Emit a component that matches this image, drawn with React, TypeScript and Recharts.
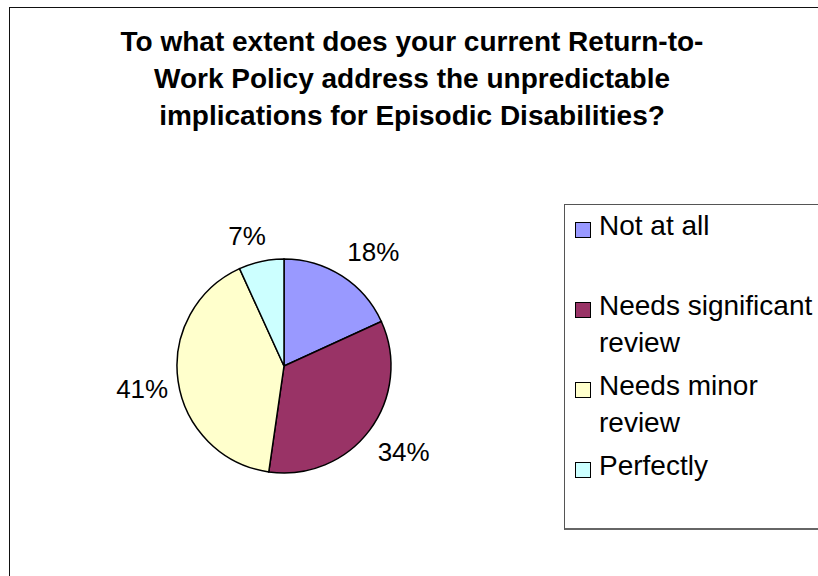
import { PieChart, Pie, Cell, Legend } from "recharts";

const categories = [
  "Not at all",
  "Needs significant review",
  "Needs minor review",
  "Perfectly",
];
const responses = [8, 15, 18, 3];
const colors = ["#9999FF", "#993366", "#FFFFCC", "#CCFFFF"];
const legendLines = [
  ["Not at all"],
  ["Needs significant", "review"],
  ["Needs minor", "review"],
  ["Perfectly"],
];
const titleLines = [
  "To what extent does your current Return-to-",
  "Work Policy address the unpredictable",
  "implications for Episodic Disabilities?",
];

const data = categories.map((name, i) => ({ name, value: responses[i] }));

const FONT = '"Liberation Sans", Arial, sans-serif';
const RADIAN = Math.PI / 180;
const LABEL_SIZE = 26;

const softSign = (v: number) => Math.max(-1, Math.min(1, v * 3));

// Excel-like "outside end": the label box corner nearest the pie sits a small gap off the rim
const renderLabel = (props: any) => {
  const { cx, cy, midAngle, outerRadius, percent } = props;
  const text = `${Math.round(percent * 100)}%`;
  const w = ((text.length - 1) * 0.556 + 0.889) * LABEL_SIZE;
  const h = 32;
  const ux = Math.cos(-midAngle * RADIAN);
  const uy = Math.sin(-midAngle * RADIAN);
  const r = outerRadius + 10;
  const x = cx + r * ux + softSign(ux) * (w / 2);
  const y = cy + r * uy + softSign(uy) * (h / 2);
  return (
    <text
      x={x}
      y={y}
      textAnchor="middle"
      dominantBaseline="central"
      fill="#000"
      fontSize={LABEL_SIZE}
      fontFamily={FONT}
    >
      {text}
    </text>
  );
};

const renderLegend = () => (
  <div
    style={{
      width: 254,
      height: 326,
      boxSizing: "border-box",
      borderTop: "1px solid #555",
      borderLeft: "1px solid #555",
      borderBottom: "2px solid #666",
      background: "#fff",
      paddingTop: 3,
      fontFamily: FONT,
      fontSize: 28,
      lineHeight: "36.5px",
      color: "#000",
    }}
  >
    {categories.map((name, i) => (
      <div key={name} style={{ display: "flex", height: 80 }}>
        <div
          style={{
            width: 16,
            height: 16,
            marginLeft: 10,
            marginTop: 14,
            marginRight: 8,
            boxSizing: "border-box",
            border: "1.5px solid #000",
            background: colors[i],
            flexShrink: 0,
          }}
        />
        <div>
          {legendLines[i].map((line, j) => (
            <div key={j} style={{ whiteSpace: "nowrap" }}>
              {line}
            </div>
          ))}
        </div>
      </div>
    ))}
  </div>
);

export default function App() {
  return (
    <div
      style={{
        position: "absolute",
        left: 0,
        top: 0,
        width: 818,
        height: 576,
        background: "#fff",
        fontFamily: FONT,
      }}
    >
      <div
        style={{
          position: "absolute",
          left: 9,
          top: 7,
          width: 809,
          height: 569,
          boxSizing: "border-box",
          borderTop: "1.5px solid #111",
          borderLeft: "1.5px solid #111",
        }}
      />
      <div
        style={{
          position: "absolute",
          left: 0,
          top: 23,
          width: 818,
          paddingLeft: 6,
          boxSizing: "border-box",
          textAlign: "center",
          fontWeight: "bold",
          fontSize: 28,
          lineHeight: "37px",
          color: "#000",
          whiteSpace: "nowrap",
        }}
      >
        {titleLines.map((line, i) => (
          <div key={i}>{line}</div>
        ))}
      </div>
      <PieChart
        width={818}
        height={576}
        margin={{ top: 0, right: 0, bottom: 0, left: 0 }}
      >
        <Pie
          data={data}
          dataKey="value"
          nameKey="name"
          cx={284}
          cy={366}
          outerRadius={107}
          startAngle={90}
          endAngle={-270}
          stroke="#000"
          strokeWidth={1.5}
          label={renderLabel}
          labelLine={false}
          isAnimationActive={false}
        >
          {data.map((entry, i) => (
            <Cell key={entry.name} fill={colors[i]} />
          ))}
        </Pie>
        <Legend
          layout="vertical"
          align="right"
          verticalAlign="top"
          content={renderLegend}
          wrapperStyle={{ left: 564, top: 204, right: "auto", width: 254 }}
        />
      </PieChart>
    </div>
  );
}
